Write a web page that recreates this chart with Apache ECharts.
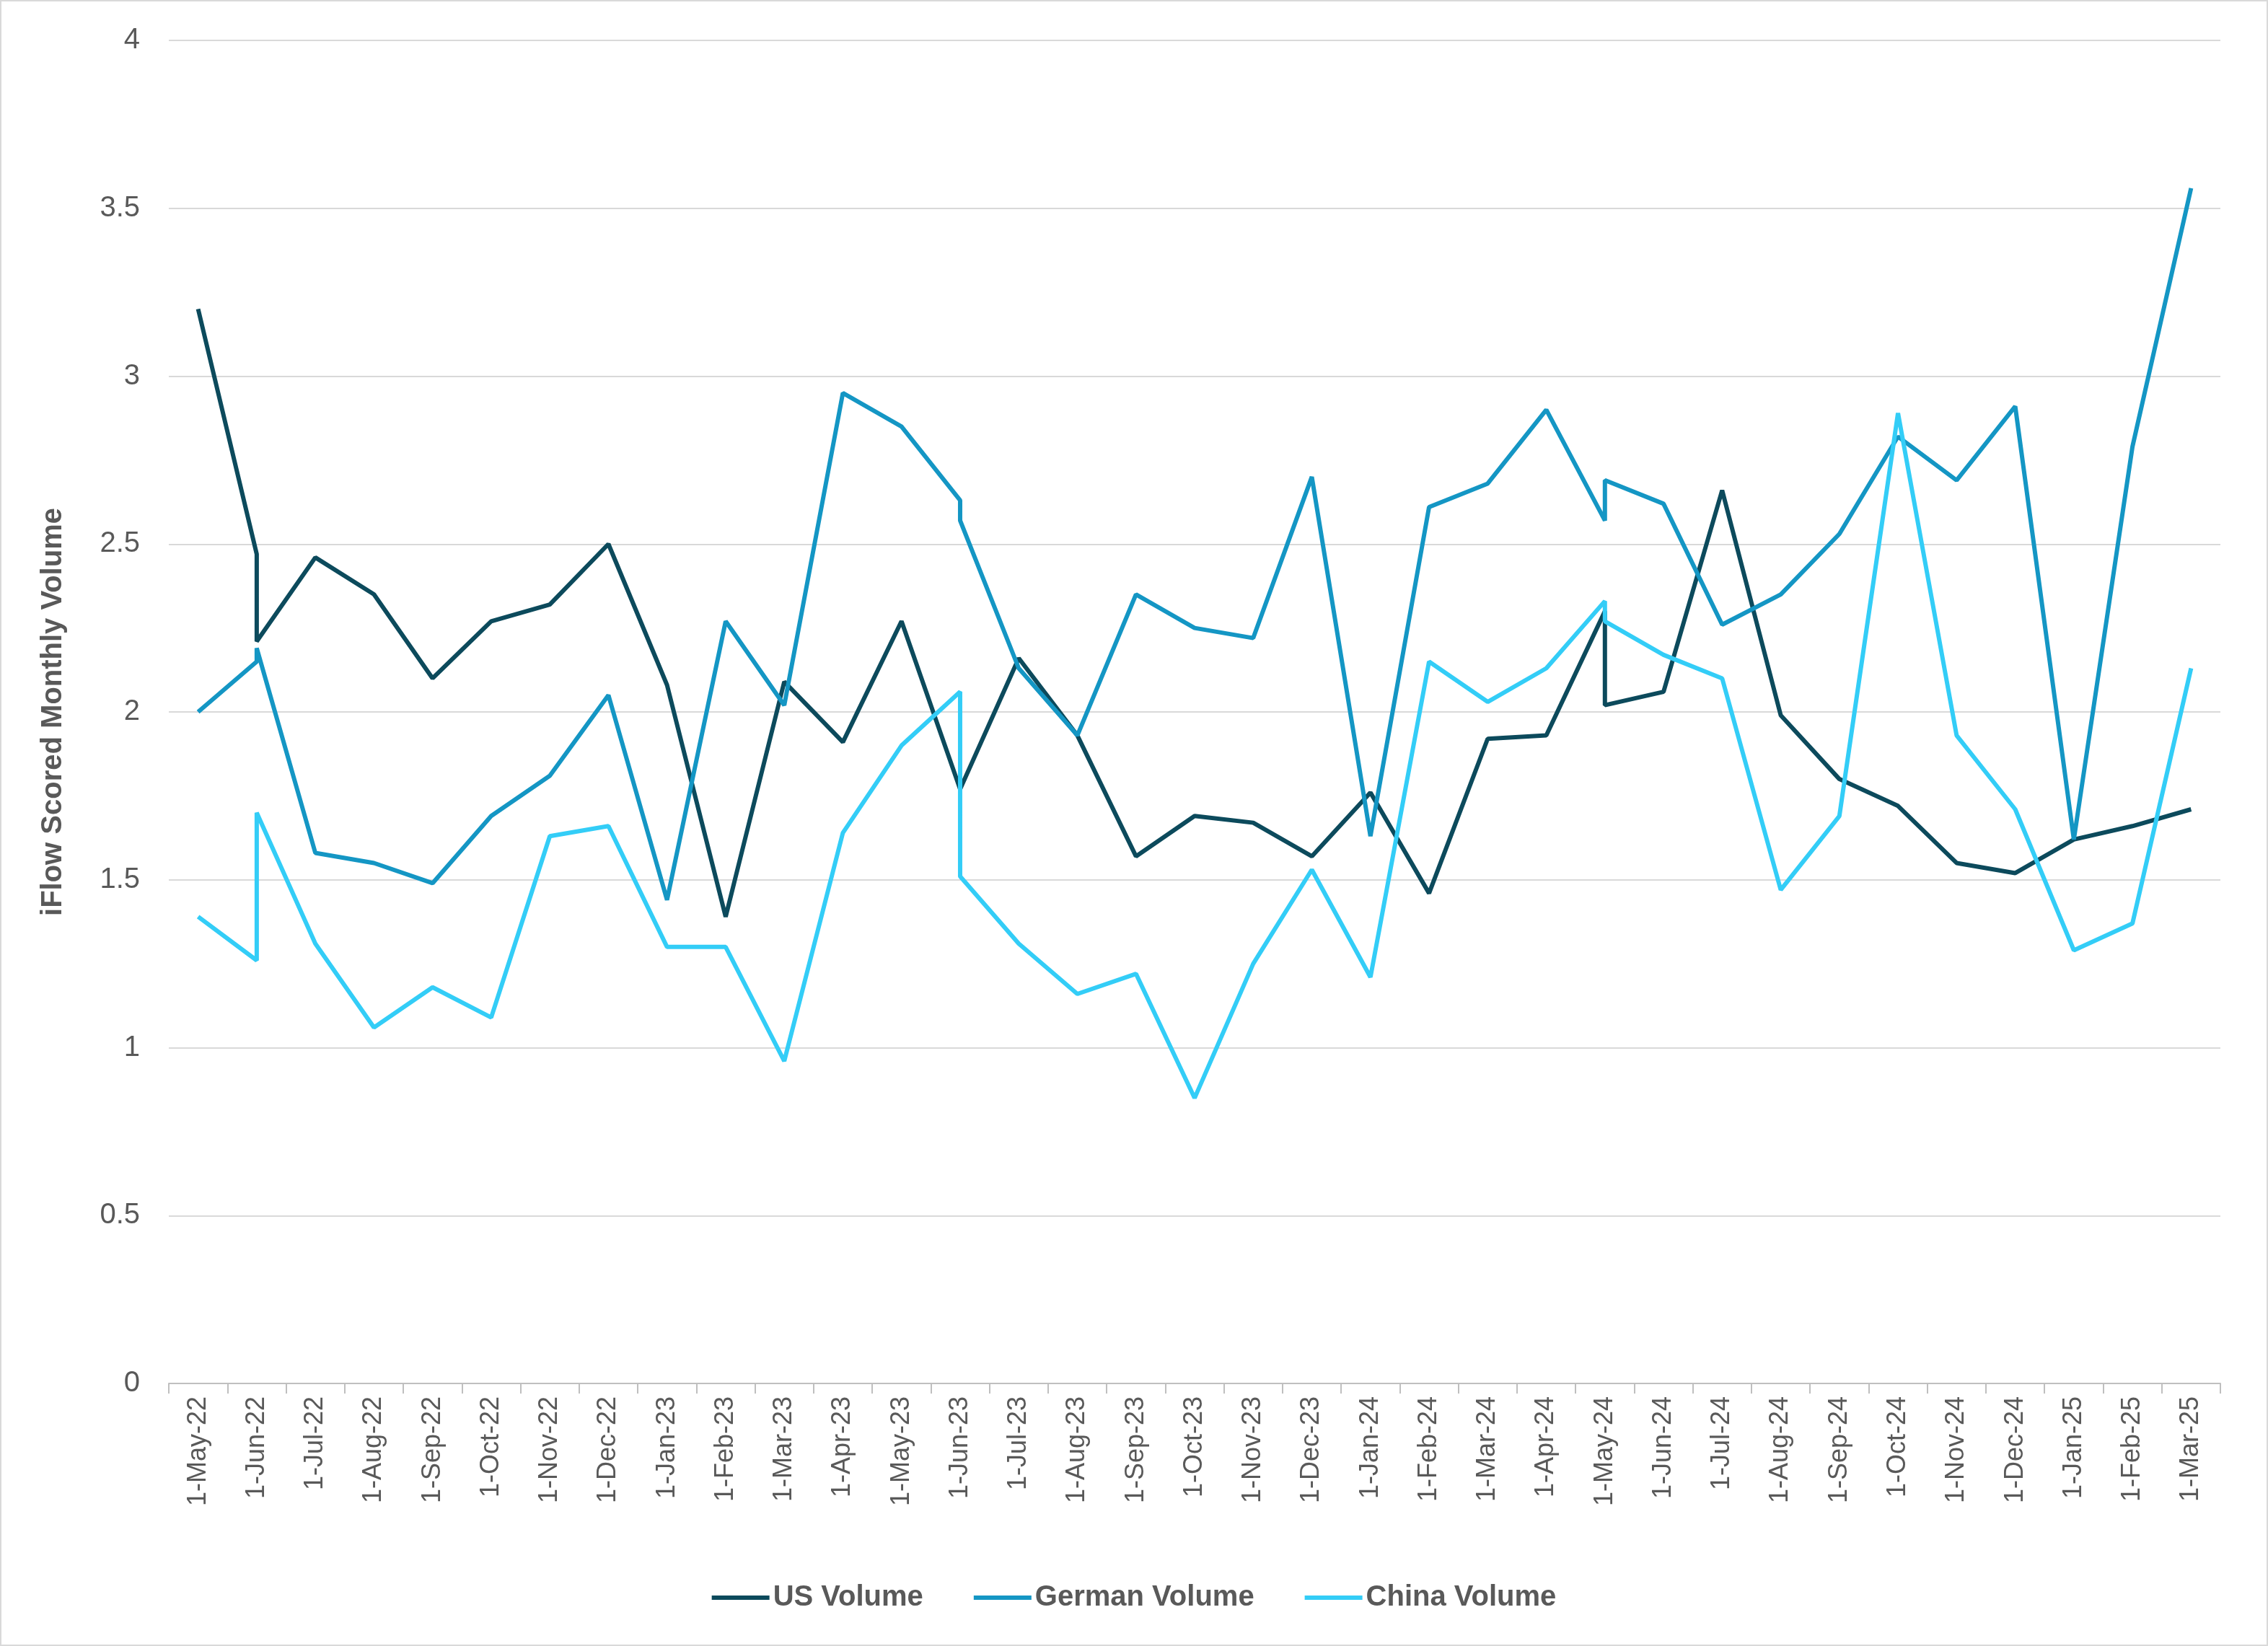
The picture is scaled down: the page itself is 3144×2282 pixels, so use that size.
<!DOCTYPE html><html><head><meta charset="utf-8">
<script src="https://cdn.jsdelivr.net/npm/echarts@6/dist/echarts.min.js"></script>
<style>html,body{margin:0;padding:0;background:#fff}#c{width:3144px;height:2282px;box-sizing:border-box;border:2px solid #d9d9d9}</style>
</head><body><div id="c"></div><script>
const months=["1-May-22","1-Jun-22","1-Jul-22","1-Aug-22","1-Sep-22","1-Oct-22","1-Nov-22","1-Dec-22","1-Jan-23","1-Feb-23","1-Mar-23","1-Apr-23","1-May-23","1-Jun-23","1-Jul-23","1-Aug-23","1-Sep-23","1-Oct-23","1-Nov-23","1-Dec-23","1-Jan-24","1-Feb-24","1-Mar-24","1-Apr-24","1-May-24","1-Jun-24","1-Jul-24","1-Aug-24","1-Sep-24","1-Oct-24","1-Nov-24","1-Dec-24","1-Jan-25","1-Feb-25","1-Mar-25"];
// [month index, value]; repeated index = two readings on the same date
const usVolume=[[0,3.20],[1,2.47],[1,2.21],[2,2.46],[3,2.35],[4,2.10],[5,2.27],[6,2.32],[7,2.50],[8,2.08],[9,1.39],[10,2.09],[11,1.91],[12,2.27],[13,1.77],[14,2.16],[15,1.93],[16,1.57],[17,1.69],[18,1.67],[19,1.57],[20,1.76],[21,1.46],[22,1.92],[23,1.93],[24,2.30],[24,2.02],[25,2.06],[26,2.66],[27,1.99],[28,1.80],[29,1.72],[30,1.55],[31,1.52],[32,1.62],[33,1.66],[34,1.71]];
const germanVolume=[[0,2.00],[1,2.15],[1,2.19],[2,1.58],[3,1.55],[4,1.49],[5,1.69],[6,1.81],[7,2.05],[8,1.44],[9,2.27],[10,2.02],[11,2.95],[12,2.85],[13,2.63],[13,2.57],[14,2.13],[15,1.93],[16,2.35],[17,2.25],[18,2.22],[19,2.70],[20,1.63],[21,2.61],[22,2.68],[23,2.90],[24,2.57],[24,2.69],[25,2.62],[26,2.26],[27,2.35],[28,2.53],[29,2.82],[30,2.69],[31,2.91],[32,1.62],[33,2.79],[34,3.56]];
const chinaVolume=[[0,1.39],[1,1.26],[1,1.70],[2,1.31],[3,1.06],[4,1.18],[5,1.09],[6,1.63],[7,1.66],[8,1.30],[9,1.30],[10,0.96],[11,1.64],[12,1.90],[13,2.06],[13,1.51],[14,1.31],[15,1.16],[16,1.22],[17,0.85],[18,1.25],[19,1.53],[20,1.21],[21,2.15],[22,2.03],[23,2.13],[24,2.33],[24,2.27],[25,2.17],[26,2.10],[27,1.47],[28,1.69],[29,2.89],[30,1.93],[31,1.71],[32,1.29],[33,1.37],[34,2.13]];
const yTicks={min:0,max:4,interval:0.5};
const labelPos=months.map((m,i)=>i);
const tickPos=months.map((m,i)=>i-0.5).concat([months.length-0.5]);
const ch=echarts.init(document.getElementById('c'));
const mk=(n,d,c)=>({name:n,type:'line',data:d,symbol:'none',lineStyle:{width:6,color:c},itemStyle:{color:c}});
ch.setOption({
 textStyle:{fontFamily:'Liberation Sans, Arial'},
 grid:{left:232,right:64,top:54,bottom:362},
 legend:{bottom:40,itemWidth:80,itemHeight:6,itemGap:70,icon:'rect',textStyle:{fontSize:40,fontWeight:'bold',color:'#595959'}},
 xAxis:{type:'value',min:-0.5,max:34.5,
  axisLine:{lineStyle:{color:'#bfbfbf',width:2}},
  axisTick:{show:true,length:14,customValues:tickPos,lineStyle:{color:'#bfbfbf',width:2}},
  splitLine:{show:false},
  axisLabel:{rotate:90,fontSize:36,color:'#595959',margin:18,customValues:labelPos,
   formatter:v=>months[Math.round(v)]||''}},
 yAxis:{type:'value',min:yTicks.min,max:yTicks.max,interval:yTicks.interval,name:'iFlow Scored Monthly Volume',nameLocation:'middle',nameGap:140,
  nameTextStyle:{fontSize:40,fontWeight:'bold',color:'#595959'},
  axisLabel:{fontSize:40,color:'#595959',margin:40},axisLine:{show:false},axisTick:{show:false},
  splitLine:{lineStyle:{color:'#d9d9d9',width:2}}},
 series:[mk('US Volume',usVolume,'#0c4a5c'),mk('German Volume',germanVolume,'#1496c4'),mk('China Volume',chinaVolume,'#33cdf7')]
});
</script></body></html>
